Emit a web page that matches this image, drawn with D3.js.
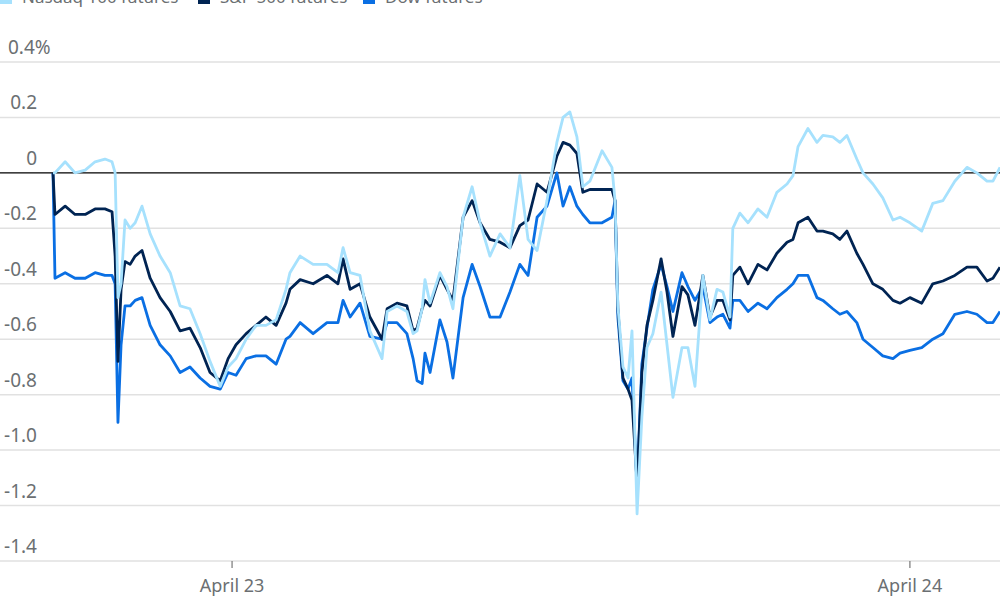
<!DOCTYPE html>
<html>
<head>
<meta charset="utf-8">
<script src="https://cdn.jsdelivr.net/npm/d3@7"></script>
<style>
  body { margin: 0; background: #fff; }
  text { font-family: "Noto Sans", sans-serif; }
</style>
</head>
<body>
<svg id="chart"></svg>
<script>
// hours relative to April 23 00:00
const hours = [-6.34,-6.27,-5.91,-5.56,-5.20,-4.85,-4.50,-4.25,-4.14,-4.04,-3.93,-3.79,-3.61,-3.43,-3.19,-2.90,-2.55,-2.19,-1.84,-1.49,-1.13,-0.78,-0.42,-0.14,0.14,0.50,0.85,1.20,1.56,1.91,
  2.05,2.41,2.87,3.36,3.75,3.93,4.18,4.53,4.88,5.31,5.49,5.84,6.19,6.41,6.55,6.73,6.83,7.01,7.36,7.61,7.82,8.18,8.50,8.78,9.13,9.49,9.84,10.19,10.48,10.80,11.15,11.50,11.72,11.96,12.21,12.42,12.67,13.10,13.45,
  13.56,13.66,13.84,14.02,14.16,14.34,14.51,14.69,14.90,15.19,15.40,15.61,15.93,16.14,16.39,16.67,16.92,17.17,17.38,17.63,17.73,17.98,18.27,18.62,18.94,19.29,19.65,19.86,20.04,20.39,20.71,20.92,21.27,21.52,21.77,22.12,22.34,22.69,23.04,23.40,23.65,24.00,24.42,24.81,25.17,25.59,26.02,26.37,26.73,26.94,27.19];

const nasdaq = [0,0.0,0.04,0.0,0.01,0.04,0.05,0.04,0.0,-0.45,-0.4,-0.17,-0.2,-0.18,-0.12,-0.22,-0.3,-0.36,-0.48,-0.49,-0.58,-0.68,-0.77,-0.7,-0.67,-0.6,-0.55,-0.55,-0.53,-0.42,
  -0.36,-0.30,-0.33,-0.33,-0.36,-0.27,-0.36,-0.37,-0.57,-0.67,-0.5,-0.48,-0.5,-0.58,-0.57,-0.49,-0.385,-0.47,-0.36,-0.41,-0.49,-0.16,-0.05,-0.18,-0.30,-0.22,-0.27,-0.01,-0.24,-0.28,-0.10,0.11,0.2,0.22,0.13,-0.05,-0.03,0.08,0.02,
  -0.1,-0.48,-0.70,-0.74,-0.57,-1.23,-0.88,-0.63,-0.58,-0.43,-0.62,-0.81,-0.63,-0.63,-0.77,-0.37,-0.53,-0.42,-0.43,-0.52,-0.2,-0.145,-0.18,-0.13,-0.16,-0.07,-0.04,-0.01,0.095,0.16,0.11,0.135,0.13,0.11,0.135,0.05,0.0,-0.04,-0.09,-0.17,-0.16,-0.18,-0.21,-0.11,-0.10,-0.03,0.02,0.0,-0.03,-0.03,0.02];

const sp500 = [0,-0.15,-0.12,-0.15,-0.15,-0.13,-0.13,-0.14,-0.3,-0.68,-0.42,-0.32,-0.33,-0.3,-0.28,-0.38,-0.45,-0.5,-0.57,-0.56,-0.63,-0.72,-0.75,-0.67,-0.62,-0.58,-0.55,-0.52,-0.55,-0.47,
  -0.42,-0.385,-0.4,-0.37,-0.40,-0.31,-0.42,-0.40,-0.52,-0.60,-0.49,-0.47,-0.48,-0.57,-0.56,-0.49,-0.46,-0.48,-0.37,-0.42,-0.46,-0.16,-0.1,-0.18,-0.24,-0.25,-0.27,-0.19,-0.17,-0.04,-0.07,0.06,0.11,0.1,0.07,-0.07,-0.06,-0.06,-0.06,
  -0.1,-0.49,-0.74,-0.78,-0.82,-1.12,-0.72,-0.55,-0.46,-0.31,-0.43,-0.59,-0.41,-0.44,-0.55,-0.37,-0.52,-0.46,-0.46,-0.53,-0.37,-0.34,-0.40,-0.33,-0.35,-0.29,-0.25,-0.24,-0.18,-0.16,-0.21,-0.21,-0.22,-0.24,-0.21,-0.29,-0.33,-0.40,-0.42,-0.46,-0.47,-0.45,-0.47,-0.40,-0.39,-0.37,-0.34,-0.34,-0.39,-0.38,-0.34];

const dow = [0,-0.38,-0.36,-0.38,-0.38,-0.36,-0.37,-0.37,-0.4,-0.9,-0.62,-0.48,-0.48,-0.46,-0.45,-0.55,-0.62,-0.66,-0.72,-0.7,-0.74,-0.77,-0.78,-0.72,-0.73,-0.67,-0.66,-0.66,-0.69,-0.6,
  -0.59,-0.54,-0.58,-0.54,-0.54,-0.46,-0.52,-0.47,-0.59,-0.6,-0.54,-0.54,-0.58,-0.67,-0.75,-0.76,-0.65,-0.72,-0.53,-0.61,-0.74,-0.45,-0.33,-0.41,-0.52,-0.52,-0.43,-0.33,-0.37,-0.16,-0.12,0.0,-0.12,-0.05,-0.12,-0.15,-0.18,-0.18,-0.16,
  -0.1,-0.52,-0.75,-0.78,-0.74,-1.13,-0.69,-0.56,-0.42,-0.33,-0.41,-0.50,-0.36,-0.41,-0.46,-0.41,-0.54,-0.52,-0.51,-0.56,-0.46,-0.46,-0.50,-0.47,-0.49,-0.45,-0.42,-0.40,-0.37,-0.37,-0.45,-0.46,-0.49,-0.51,-0.50,-0.54,-0.6,-0.63,-0.66,-0.67,-0.65,-0.64,-0.63,-0.6,-0.58,-0.51,-0.50,-0.51,-0.54,-0.54,-0.50];

const yTicks = [0.4, 0.2, 0, -0.2, -0.4, -0.6, -0.8, -1.0, -1.2, -1.4];
const xTicks = [0, 24];
const xTickLabels = ["April 23", "April 24"];
const seriesNames = ["Nasdaq 100 futures", "S&P 500 futures", "Dow futures"];
const seriesColors = ["#a6e1fd", "#002453", "#0a6fe3"];

const width = 1000, height = 600;
const svg = d3.select("#chart").attr("width", width).attr("height", height);

const x = d3.scaleLinear().domain([hours[0], hours[hours.length - 1]]).range([53, 1000]);
const y = d3.scaleLinear().domain([-1.4, 0.4]).range([561, 62]);

// gridlines + labels
svg.selectAll(".grid").data(yTicks).enter().append("line")
  .attr("x1", 0).attr("x2", width)
  .attr("y1", d => y(d)).attr("y2", d => y(d))
  .attr("stroke", d => d === 0 ? "#000" : "#e1e1e1")
  .attr("stroke-width", d => d === 0 ? 1.3 : 1.5);

const yl = svg.selectAll(".ylab").data(yTicks).enter().append("text")
  .attr("x", 37).attr("y", d => y(d) - 8)
  .attr("text-anchor", "end")
  .attr("fill", "#6b6f72").attr("font-size", 19);
yl.append("tspan").text(d => d === 0 ? "0" : d3.format(".1f")(d).replace("−", "-"));
yl.filter(d => d === 0.4).append("tspan").text("%");
yl.filter(d => d === 0.4).attr("text-anchor", "start").attr("x", 8);

// x axis ticks
svg.selectAll(".xt").data(xTicks).enter().append("line")
  .attr("x1", d => x(d)).attr("x2", d => x(d))
  .attr("y1", 561).attr("y2", 568).attr("stroke", "#777").attr("stroke-width", 1.2);
svg.selectAll(".xl").data(xTicks).enter().append("text")
  .attr("x", d => x(d)).attr("y", 592).attr("text-anchor", "middle")
  .attr("fill", "#6b6f72").attr("font-size", 18)
  .text((d, i) => xTickLabels[i]);

// lines
const line = d3.line().x((d, i) => x(hours[i])).y(d => y(d));
[[dow, 2], [sp500, 1], [nasdaq, 0]].forEach(([vals, k]) => {
  svg.append("path").datum(vals)
    .attr("d", line).attr("fill", "none")
    .attr("stroke", seriesColors[k]).attr("stroke-width", 2.8)
    .attr("stroke-linejoin", "round");
});

// legend (partly cut at top, as in the original)
const legendX = [0, 198, 363];
seriesNames.forEach((n, i) => {
  svg.append("rect").attr("x", legendX[i]).attr("y", -10).attr("width", 12).attr("height", 14)
    .attr("fill", seriesColors[i]);
  svg.append("text").attr("x", legendX[i] + 22).attr("y", 3)
    .attr("fill", "#6b6f72").attr("font-size", 17).text(n);
});
</script>
</body>
</html>
